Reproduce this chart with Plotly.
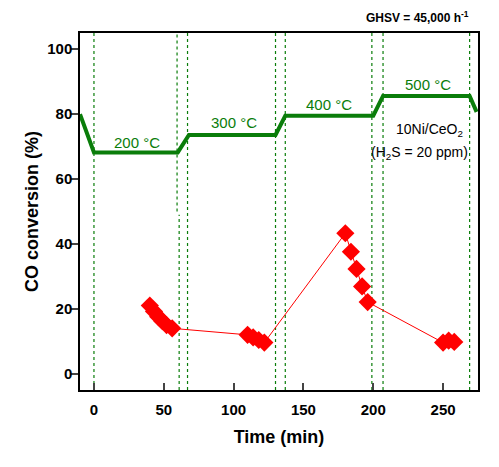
import plotly.graph_objects as go

# Data
conv_time = [40, 43, 46, 49, 52, 56, 110, 114, 118, 122, 180, 184, 188, 192, 196, 250, 254, 258]
conv_value = [21, 19.2, 17.6, 16.2, 15.0, 14.0, 12.0, 11.2, 10.4, 9.6, 43.3, 37.6, 32.3, 26.9, 22.1, 9.6, 10.2, 9.8]

temp_time = [-10, 0, 60, 68, 130, 137, 200, 207, 269, 274]
temp_level = [80, 68.2, 68.2, 73.6, 73.6, 79.5, 79.5, 85.6, 85.6, 80.7]

vline_times = [0, 67, 130, 137, 199, 207, 269]
# the 60-min marker is drawn in two slightly offset pieces
vline_split_upper = 59.5
vline_split_lower = 61
vline_split_level = 50

temp_labels = ["200 °C", "300 °C", "400 °C", "500 °C"]
temp_label_x = [31, 100.4, 168, 239]
temp_label_y = [71.3, 77.4, 83.0, 89.0]

x_ticks = [0, 50, 100, 150, 200, 250]
y_ticks = [0, 20, 40, 60, 80, 100]

FONT = "Liberation Sans, Arial, sans-serif"
GREEN = "#0a7d0a"

fig = go.Figure()

fig.add_trace(go.Scatter(
    x=temp_time, y=temp_level, mode="lines",
    line=dict(color=GREEN, width=4), showlegend=False, cliponaxis=True))

fig.add_trace(go.Scatter(
    x=conv_time, y=conv_value, mode="lines+markers",
    line=dict(color="#ff0000", width=1),
    marker=dict(symbol="diamond", size=14, color="#ff0000"),
    showlegend=False))

dot = dict(color=GREEN, width=1.2, dash="dot")
for t in vline_times:
    fig.add_shape(type="line", x0=t, x1=t, y0=0, y1=1, xref="x", yref="paper",
                  line=dot, layer="below")
fig.add_shape(type="line", x0=vline_split_upper, x1=vline_split_upper, y0=vline_split_level, y1=105,
              xref="x", yref="y", line=dot, layer="below")
fig.add_shape(type="line", x0=vline_split_lower, x1=vline_split_lower, y0=-5, y1=vline_split_level - 1,
              xref="x", yref="y", line=dot, layer="below")

for txt, x, y in zip(temp_labels, temp_label_x, temp_label_y):
    fig.add_annotation(x=x, y=y, text=txt, showarrow=False,
                       font=dict(family=FONT, size=15, color=GREEN))

fig.add_annotation(xref="x", yref="paper", x=231.5, y=1.045, text="GHSV = 45,000 h<sup>-1</sup>",
                   showarrow=False, font=dict(family=FONT, size=12, color="black", weight="bold"),
                   yanchor="middle")
fig.add_annotation(x=240.5, y=75.1, text="10Ni/CeO<sub>2</sub>", showarrow=False,
                   font=dict(family=FONT, size=14, color="black"))
fig.add_annotation(x=233.4, y=68, text="(H<sub>2</sub>S = 20 ppm)", showarrow=False,
                   font=dict(family=FONT, size=14, color="black"))

fig.update_layout(
    width=499, height=467,
    margin=dict(l=72, r=29, t=25, b=85),
    paper_bgcolor="white", plot_bgcolor="white",
    font=dict(family=FONT, color="black"),
)
fig.update_xaxes(
    range=[-10, 275], tickvals=x_ticks, ticks="inside", ticklen=7, tickwidth=1.5,
    showline=True, linecolor="black", linewidth=1.5, mirror=True, showgrid=False, zeroline=False,
    automargin=False, ticklabelstandoff=5,
    tickfont=dict(family=FONT, size=15, color="black", weight="bold"),
    title=dict(text="<b>Time (min)</b>", font=dict(family=FONT, size=18), standoff=14),
)
fig.update_yaxes(
    range=[-5, 105], tickvals=y_ticks, ticks="outside", ticklen=7, tickwidth=1.5,
    showline=True, linecolor="black", linewidth=1.5, mirror=True, showgrid=False, zeroline=False,
    automargin=False, ticklabelstandoff=-4,
    tickfont=dict(family=FONT, size=15, color="black", weight="bold"),
    title=dict(text="<b>CO conversion (%)</b>", font=dict(family=FONT, size=18), standoff=4),
)

fig.write_html("out.html")
